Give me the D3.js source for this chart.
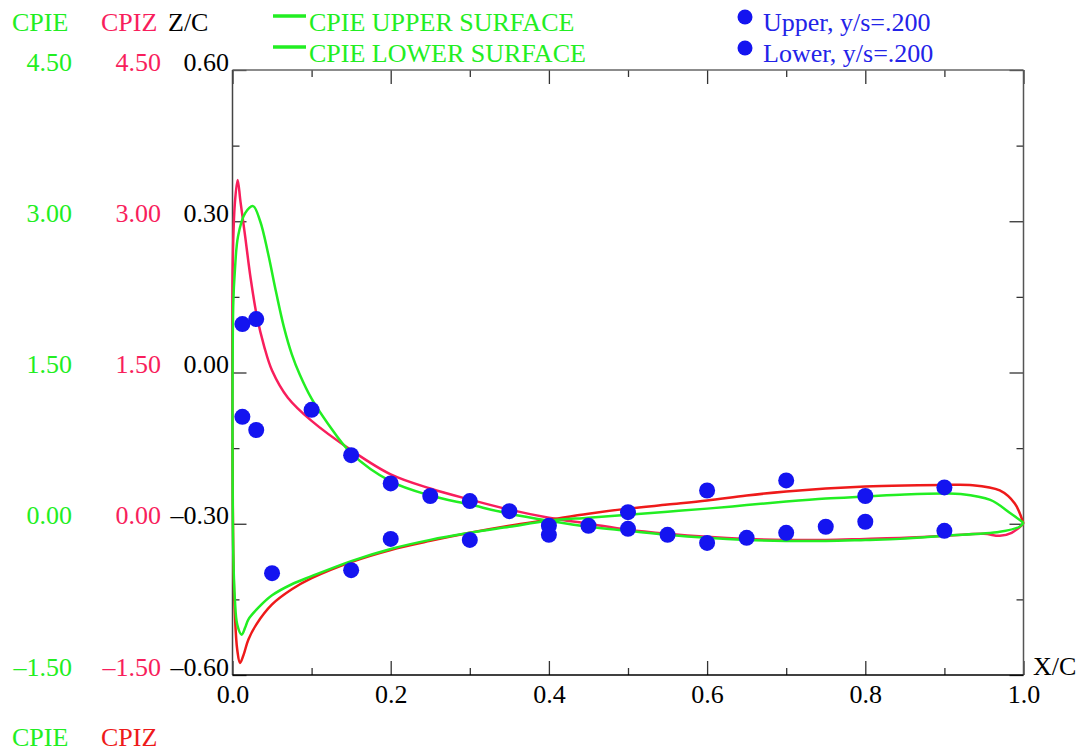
<!DOCTYPE html>
<html>
<head>
<meta charset="utf-8">
<script src="https://cdn.jsdelivr.net/npm/d3@7"></script>
<style>
  body { margin: 0; background: #fff; }
  svg text { font-family: "Liberation Serif", "DejaVu Serif", serif; }
</style>
</head>
<body>
<div id="vis"></div>
<script>

// CPIZ upper surface (pink) : x/c and Cp
var cpizUpperX = [0, 0.0003, 0.003, 0.0065, 0.01, 0.016, 0.023, 0.031, 0.04, 0.05, 0.07, 0.1, 0.15, 0.2, 0.25, 0.3, 0.35, 0.4, 0.45, 0.5, 0.55, 0.6, 0.65, 0.7, 0.75, 0.8, 0.85, 0.9, 0.95, 0.97, 0.985, 1.0];
var cpizUpperY = [0.8, 2.58, 3.18, 3.41, 3.2, 2.85, 2.43, 2.05, 1.76, 1.52, 1.25, 1.02, 0.73, 0.49, 0.35, 0.24, 0.14, 0.06, 0.0, -0.06, -0.10, -0.13, -0.15, -0.16, -0.16, -0.15, -0.14, -0.12, -0.1, -0.12, -0.09, 0.0];

// CPIZ lower surface (red)
var cpizLowerX = [0, 0.001, 0.003, 0.006, 0.0095, 0.014, 0.02, 0.03, 0.05, 0.075, 0.1, 0.15, 0.2, 0.25, 0.3, 0.35, 0.4, 0.45, 0.5, 0.55, 0.6, 0.65, 0.7, 0.75, 0.8, 0.85, 0.9, 0.932, 0.97, 0.989, 1.0];
var cpizLowerY = [0.8, -0.3, -0.9, -1.25, -1.38, -1.3, -1.15, -1.0, -0.8, -0.65, -0.54, -0.38, -0.26, -0.17, -0.09, -0.02, 0.04, 0.10, 0.15, 0.19, 0.23, 0.28, 0.32, 0.35, 0.37, 0.38, 0.385, 0.384, 0.33, 0.2, 0.0];

// CPIE upper surface (green)
var cpieUpperX = [0, 0.001, 0.003, 0.007, 0.016, 0.026, 0.035, 0.045, 0.055, 0.065, 0.075, 0.085, 0.1, 0.12, 0.15, 0.2, 0.25, 0.3, 0.35, 0.4, 0.45, 0.5, 0.55, 0.6, 0.65, 0.7, 0.75, 0.8, 0.844, 0.9, 0.97, 0.995, 1.0];
var cpieUpperY = [0.9, 2.19, 2.51, 2.85, 3.08, 3.15, 3.0, 2.68, 2.3, 1.95, 1.68, 1.48, 1.24, 1.0, 0.70, 0.42, 0.28, 0.19, 0.10, 0.03, -0.03, -0.07, -0.11, -0.14, -0.16, -0.17, -0.17, -0.16, -0.15, -0.12, -0.08, -0.03, 0.01];

// CPIE lower surface (green)
var cpieLowerX = [0, 0.001, 0.003, 0.006, 0.0116, 0.016, 0.02, 0.033, 0.05, 0.075, 0.1, 0.15, 0.2, 0.25, 0.3, 0.35, 0.4, 0.45, 0.5, 0.55, 0.6, 0.65, 0.7, 0.75, 0.8, 0.85, 0.9, 0.92, 0.958, 0.983, 1.0];
var cpieLowerY = [0.9, -0.3, -0.75, -1.0, -1.10, -1.03, -0.95, -0.83, -0.71, -0.60, -0.52, -0.37, -0.25, -0.16, -0.09, -0.03, 0.03, 0.06, 0.09, 0.12, 0.15, 0.185, 0.22, 0.25, 0.27, 0.29, 0.30, 0.295, 0.236, 0.107, 0.01];

// experiment, y/s = .200
var upperPtsX = [0.0125, 0.03, 0.1, 0.15, 0.2, 0.25, 0.3, 0.35, 0.4, 0.45, 0.5, 0.55, 0.6, 0.65, 0.7, 0.75, 0.8, 0.9];
var upperPtsY = [1.98, 2.03, 1.13, 0.68, 0.40, 0.275, 0.225, 0.125, -0.02, -0.02, -0.05, -0.11, -0.19, -0.14, -0.09, -0.03, 0.02, -0.07];
var lowerPtsX = [0.0125, 0.03, 0.05, 0.15, 0.2, 0.3, 0.4, 0.5, 0.6, 0.7, 0.8, 0.9];
var lowerPtsY = [1.06, 0.93, -0.49, -0.46, -0.15, -0.16, -0.11, 0.115, 0.33, 0.43, 0.275, 0.36];

var cpTicks = [-1.5, 0, 1.5, 3.0, 4.5];
var zcTicks = [-0.6, -0.3, 0, 0.3, 0.6];
var zcMinor = [-0.45, -0.15, 0.15, 0.45];
var xTicks = [0, 0.2, 0.4, 0.6, 0.8, 1.0];
var xMinor = [0.1, 0.3, 0.5, 0.7, 0.9];

var green = '#22ee22';
var pink = '#f81e5c';
var red = '#ee1a1a';
var blue = '#1414f0';
var fontSize = '26px';

var width = 1081, height = 752;
var plotLeft = 232.5, plotRight = 1023.5, plotTop = 70, plotBottom = 675;

var x = d3.scaleLinear().domain([0, 1]).range([plotLeft, plotRight]);
var cp = d3.scaleLinear().domain([-1.5, 4.5]).range([plotBottom, plotTop]);
var zc = d3.scaleLinear().domain([-0.6, 0.6]).range([plotBottom, plotTop]);

var svg = d3.select('#vis').append('svg')
  .attr('width', width)
  .attr('height', height);

function fmt(v, n) {
  var s = Math.abs(v).toFixed(n);
  return (v < 0 ? '\u2013' : '') + s;
}

// label columns on the left
function labelColumn(scale, ticks, xpos, color, n) {
  var g = svg.append('g')
    .attr('transform', 'translate(' + xpos + ',0)')
    .call(d3.axisLeft(scale).tickValues(ticks).tickSize(0).tickPadding(0)
      .tickFormat(function (d) { return fmt(d, n); }));
  g.select('.domain').remove();
  g.selectAll('text')
    .attr('dy', 0)
    .attr('fill', color)
    .style('font-size', fontSize)
    .style('font-family', '"Liberation Serif", serif');
}
labelColumn(cp, cpTicks, 72, green, 2);
labelColumn(cp, cpTicks, 161, pink, 2);
labelColumn(zc, zcTicks, 229, '#000', 2);

function header(t, xp, yp, color) {
  svg.append('text').attr('x', xp).attr('y', yp).attr('fill', color)
    .style('font-size', fontSize).text(t);
}
header('CPIE', 12, 31, green);
header('CPIZ', 101, 31, pink);
header('Z/C', 168, 31, '#000');
header('CPIE', 12, 746, green);
header('CPIZ', 101, 746, red);
header('X/C', 1033, 675, '#000');

// ticks, pointing inward
function tickAxis(axis, transform, size, values) {
  var g = svg.append('g')
    .attr('transform', transform)
    .call(axis.tickValues(values).tickSize(-size).tickFormat(''));
  g.select('.domain').remove();
  g.selectAll('line').attr('stroke', '#333').attr('stroke-width', 1.3);
  return g;
}
tickAxis(d3.axisBottom(x), 'translate(0,' + plotBottom + ')', 14, xTicks);
tickAxis(d3.axisBottom(x), 'translate(0,' + plotBottom + ')', 7, xMinor);
tickAxis(d3.axisTop(x), 'translate(0,' + plotTop + ')', 14, xTicks);
tickAxis(d3.axisTop(x), 'translate(0,' + plotTop + ')', 7, xMinor);
tickAxis(d3.axisLeft(zc), 'translate(' + plotLeft + ',0)', 14, zcTicks);
tickAxis(d3.axisLeft(zc), 'translate(' + plotLeft + ',0)', 7, zcMinor);
tickAxis(d3.axisRight(zc), 'translate(' + plotRight + ',0)', 14, zcTicks);
tickAxis(d3.axisRight(zc), 'translate(' + plotRight + ',0)', 7, zcMinor);

// x tick labels
var xl = svg.append('g')
  .attr('transform', 'translate(0,' + plotBottom + ')')
  .call(d3.axisBottom(x).tickValues(xTicks).tickSize(0).tickPadding(28)
    .tickFormat(function (d) { return d.toFixed(1); }));
xl.select('.domain').remove();
xl.selectAll('text')
  .attr('dy', 0)
  .attr('fill', '#000')
  .style('font-size', fontSize)
  .style('font-family', '"Liberation Serif", serif');

// frame
svg.append('line').attr('x1', plotLeft).attr('x2', plotRight).attr('y1', plotTop).attr('y2', plotTop)
  .attr('stroke', '#666').attr('stroke-width', 1.5);
svg.append('line').attr('x1', plotRight).attr('x2', plotRight).attr('y1', plotTop).attr('y2', plotBottom)
  .attr('stroke', '#555').attr('stroke-width', 1.5);
svg.append('line').attr('x1', plotLeft).attr('x2', plotLeft).attr('y1', plotTop).attr('y2', plotBottom)
  .attr('stroke', '#444').attr('stroke-width', 1.5);
svg.append('line').attr('x1', plotLeft).attr('x2', plotRight).attr('y1', plotBottom).attr('y2', plotBottom)
  .attr('stroke', '#000').attr('stroke-width', 1.5);

// curves
var line = d3.line()
  .x(function (d) { return x(d[0]); })
  .y(function (d) { return cp(d[1]); })
  .curve(d3.curveCatmullRom.alpha(0.5));

function curve(xs, ys, color) {
  svg.append('path')
    .datum(d3.zip(xs, ys))
    .attr('d', line)
    .attr('fill', 'none')
    .attr('stroke', color)
    .attr('stroke-width', 2.5)
    .attr('stroke-linejoin', 'round');
}
curve(cpizUpperX, cpizUpperY, pink);
curve(cpizLowerX, cpizLowerY, red);
curve(cpieUpperX, cpieUpperY, green);
curve(cpieLowerX, cpieLowerY, green);

// experimental points
function dots(xs, ys) {
  svg.append('g').selectAll('circle')
    .data(d3.zip(xs, ys))
    .enter().append('circle')
    .attr('cx', function (d) { return x(d[0]); })
    .attr('cy', function (d) { return cp(d[1]); })
    .attr('r', 8)
    .attr('fill', blue);
}
dots(upperPtsX, upperPtsY);
dots(lowerPtsX, lowerPtsY);

// legend
var legendLines = ['CPIE UPPER SURFACE', 'CPIE LOWER SURFACE'];
var legendDots = ['Upper, y/s=.200', 'Lower, y/s=.200'];

legendLines.forEach(function (t, i) {
  var yy = 16 + i * 31;
  svg.append('line').attr('x1', 273).attr('x2', 306).attr('y1', yy).attr('y2', yy)
    .attr('stroke', green).attr('stroke-width', 3.5);
  svg.append('text').attr('x', 309).attr('y', yy + 15).attr('fill', green)
    .style('font-size', fontSize).text(t);
});

legendDots.forEach(function (t, i) {
  var yy = 17 + i * 31;
  svg.append('circle').attr('cx', 745).attr('cy', yy).attr('r', 7.5).attr('fill', blue);
  svg.append('text').attr('x', 763).attr('y', yy + 14).attr('fill', '#2323e8')
    .style('font-size', fontSize).text(t);
});

</script>
</body>
</html>
